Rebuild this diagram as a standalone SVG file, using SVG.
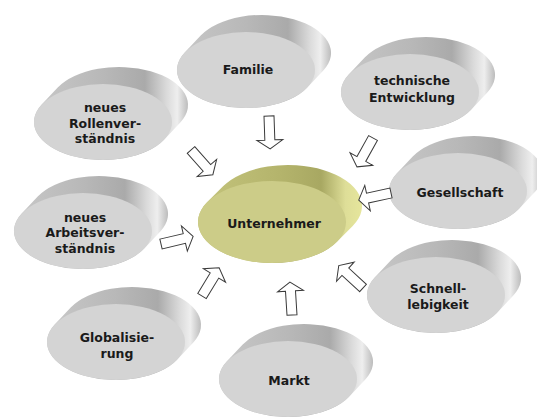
<svg xmlns="http://www.w3.org/2000/svg" xmlns:xlink="http://www.w3.org/1999/xlink" width="537" height="417" viewBox="0 0 537 417">
<style>
  .lbl { font-family: "DejaVu Sans", Verdana, sans-serif; font-weight: bold; font-size: 12.5px; fill: #1a1a1a; text-anchor: middle; }
  .face { fill: #d4d4d4; }
  .side { fill: url(#gside); }
  .uface { fill: #cccc88; }
  .uside { fill: url(#guside); }
  .arrow { fill: #ffffff; stroke: #3a3a3a; stroke-width: 1; stroke-linejoin: miter; }
</style>
<defs>
  <linearGradient id="gside" x1="0" y1="0" x2="1" y2="0">
    <stop offset="0" stop-color="#c8c8c8"/>
    <stop offset="0.45" stop-color="#b8b8b8"/>
    <stop offset="0.72" stop-color="#aaaaaa"/>
    <stop offset="0.86" stop-color="#dadada"/>
    <stop offset="0.93" stop-color="#eeeeee"/>
    <stop offset="1" stop-color="#bcbcbc"/>
  </linearGradient>
  <linearGradient id="guside" x1="0" y1="0" x2="1" y2="0">
    <stop offset="0" stop-color="#c4c47c"/>
    <stop offset="0.5" stop-color="#b4b46c"/>
    <stop offset="0.75" stop-color="#a8a862"/>
    <stop offset="0.9" stop-color="#dede98"/>
    <stop offset="1" stop-color="#e6e69c"/>
  </linearGradient>
  <path id="side" d="M61.3,17.5 A69,38 0 0 1 -61.3,-17.5 L-45.3,-34.5 A69,38 0 0 1 77.3,0.5 Z"/>
  <ellipse id="face" cx="0" cy="0" rx="69" ry="38"/>
  <path id="uside" d="M64.7,19.9 A74,41 0 0 1 -64.7,-19.9 L-48.7,-35.9 A74,41 0 0 1 80.7,3.9 Z"/>
  <ellipse id="uface" cx="0" cy="0" rx="74" ry="41"/>
  <path id="arr" d="M0,-5 L24,-5 L24,-13 L33,0 L24,13 L24,5 L0,5 Z"/>
</defs>
<rect width="537" height="417" fill="#ffffff"/>

<g id="n-familie" transform="translate(246,70)">
  <use href="#side" class="side"/><use href="#face" class="face"/>
  <text class="lbl" x="2" y="3.5">Familie</text>
</g>
<g id="n-technische" transform="translate(410,92)">
  <use href="#side" class="side"/><use href="#face" class="face"/>
  <text class="lbl" x="2" y="-7">technische</text>
  <text class="lbl" x="2" y="9.5">Entwicklung</text>
</g>
<g id="n-rollen" transform="translate(103,122)">
  <use href="#side" class="side"/><use href="#face" class="face"/>
  <text class="lbl" x="2" y="-10.5">neues</text>
  <text class="lbl" x="2" y="5.5">Rollenver-</text>
  <text class="lbl" x="2" y="20.5">ständnis</text>
</g>
<g id="n-gesellschaft" transform="translate(458,191)">
  <use href="#side" class="side"/><use href="#face" class="face"/>
  <text class="lbl" x="2" y="5.5">Gesellschaft</text>
</g>
<g id="n-arbeits" transform="translate(83,231)">
  <use href="#side" class="side"/><use href="#face" class="face"/>
  <text class="lbl" x="2" y="-9.5">neues</text>
  <text class="lbl" x="2" y="5.5">Arbeitsver-</text>
  <text class="lbl" x="2" y="21.5">ständnis</text>
</g>
<g id="n-schnell" transform="translate(436,295)">
  <use href="#side" class="side"/><use href="#face" class="face"/>
  <text class="lbl" x="2" y="-2.5">Schnell-</text>
  <text class="lbl" x="2" y="13.5">lebigkeit</text>
</g>
<g id="n-global" transform="translate(116,342)">
  <use href="#side" class="side"/><use href="#face" class="face"/>
  <text class="lbl" x="1" y="-0.5">Globalisie-</text>
  <text class="lbl" x="1" y="15.5">rung</text>
</g>
<g id="n-markt" transform="translate(288,379)">
  <use href="#side" class="side"/><use href="#face" class="face"/>
  <text class="lbl" x="1" y="5.5">Markt</text>
</g>
<g id="n-unternehmer" transform="translate(272,222)">
  <use href="#uside" class="uside"/><use href="#uface" class="uface"/>
  <text class="lbl" x="2" y="5.5">Unternehmer</text>
</g>

<g id="connectors">
  <use href="#arr" class="arrow" transform="translate(269,116) rotate(88)"/>
  <use href="#arr" class="arrow" transform="translate(191,150) rotate(48.5)"/>
  <use href="#arr" class="arrow" transform="translate(373,138) rotate(119)"/>
  <use href="#arr" class="arrow" transform="translate(391,193) rotate(167.7)"/>
  <use href="#arr" class="arrow" transform="translate(161,244) rotate(-13.2)"/>
  <use href="#arr" class="arrow" transform="translate(202,296) rotate(-58.7)"/>
  <use href="#arr" class="arrow" transform="translate(292,315) rotate(-93.6)"/>
  <use href="#arr" class="arrow" transform="translate(363,288) rotate(-137.3)"/>
</g>
</svg>
